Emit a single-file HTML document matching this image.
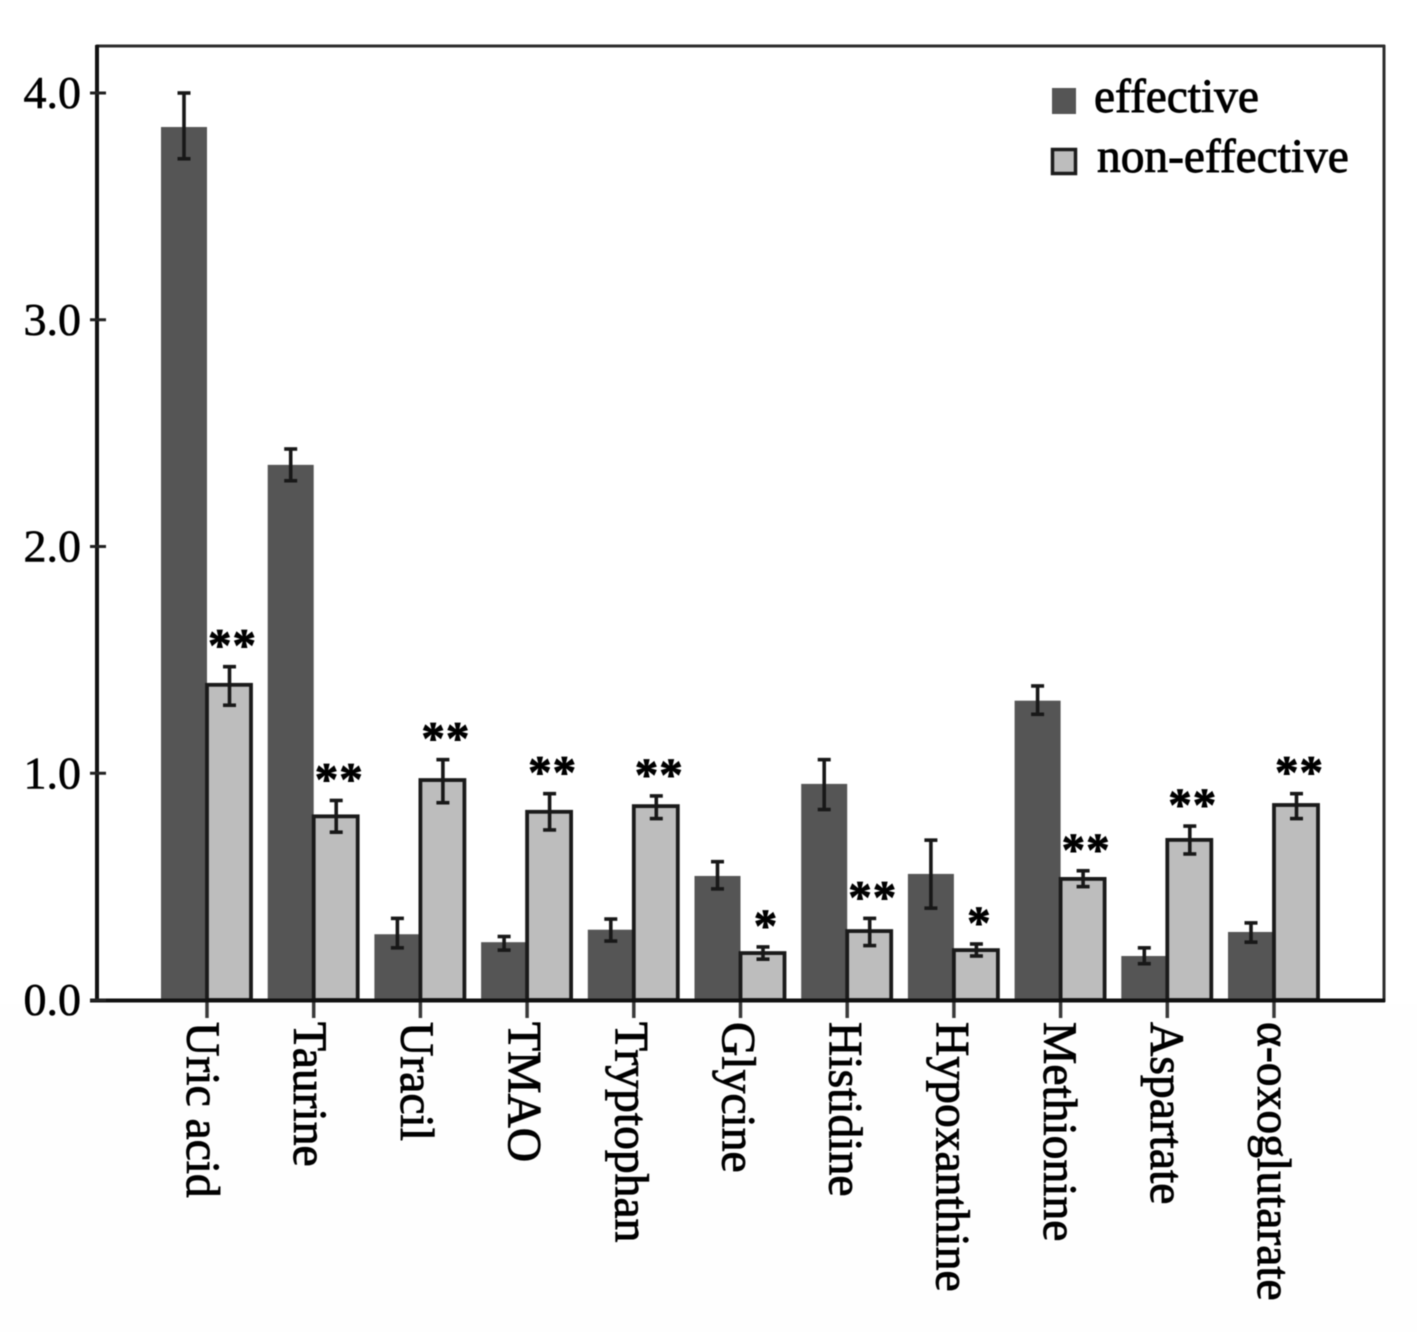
<!DOCTYPE html>
<html lang="en">
<head>
<meta charset="utf-8">
<title>Metabolite levels in effective and non-effective groups</title>
<style>
  html, body { margin: 0; padding: 0; background: #fff; }
  body { width: 1417px; height: 1332px; overflow: hidden; }
  svg { display: block; filter: blur(0.55px); }
  text { font-family: "Liberation Serif", "DejaVu Serif", serif; fill: #000; }
</style>
</head>
<body>
<svg id="chart" width="1417" height="1332" viewBox="0 0 1417 1332" xmlns="http://www.w3.org/2000/svg">
  <rect x="0" y="0" width="1417" height="1332" fill="#ffffff"></rect>
  <rect x="0" y="1004" width="1417" height="328" fill="#fefefe"></rect>
  <g id="plot"></g>
  <g id="legend">
    <rect x="1052" y="88" width="24" height="26" fill="#555555"></rect>
    <text x="1094" y="112" font-size="47.4" stroke="#000" stroke-width="0.9">effective</text>
    <rect x="1052.5" y="149.5" width="23" height="24" fill="#bdbdbd" stroke="#1c1c1c" stroke-width="3.5"></rect>
    <text x="1097" y="172" font-size="47.4" stroke="#000" stroke-width="0.9">non-effective</text>
  </g>
</svg>
<script>
const categories = ['Uric acid', 'Taurine', 'Uracil', 'TMAO', 'Tryptophan', 'Glycine', 'Histidine', 'Hypoxanthine', 'Methionine', 'Aspartate', 'α-oxoglutarate'];
const effective = [3.85, 2.36, 0.29, 0.255, 0.31, 0.547, 0.953, 0.556, 1.32, 0.194, 0.30];
const effectiveHigh = [4.0, 2.43, 0.36, 0.28, 0.357, 0.61, 1.06, 0.705, 1.385, 0.23, 0.34];
const effectiveLow = [3.71, 2.29, 0.23, 0.22, 0.26, 0.49, 0.84, 0.405, 1.26, 0.16, 0.255];
const nonEffective = [1.39, 0.81, 0.97, 0.83, 0.855, 0.207, 0.304, 0.22, 0.534, 0.706, 0.86];
const nonEffectiveHigh = [1.47, 0.88, 1.06, 0.91, 0.90, 0.234, 0.36, 0.247, 0.57, 0.767, 0.91];
const nonEffectiveLow = [1.30, 0.74, 0.87, 0.75, 0.80, 0.18, 0.24, 0.194, 0.50, 0.644, 0.80];
const significance = ['**', '**', '**', '**', '**', '*', '**', '*', '**', '**', '**'];
const yTicks = [0, 1, 2, 3, 4];
const yTickLabels = ['0.0', '1.0', '2.0', '3.0', '4.0'];

const NS = 'http://www.w3.org/2000/svg';
const plot = document.getElementById('plot');
const BASE_Y = 1000;
const UNIT_Y = 226.75;
const FIRST_X = 207;
const STEP_X = 106.7;
const BAR_W = 45;

function yScale(v) { return BASE_Y - v * UNIT_Y; }
function xScale(i) { return FIRST_X + i * STEP_X; }
function labelX(i) { return 187 + i * 107.1; }

function make(tag, props) {
  const el = document.createElementNS(NS, tag);
  Object.keys(props).forEach(function (k) { el.setAttribute(k, props[k]); });
  plot.appendChild(el);
  return el;
}
function slug(s) {
  return s.toLowerCase().replace('α', 'alpha').replace(/[^a-z]+/g, '-');
}

function drawError(cx, hi, lo, key) {
  const yh = yScale(hi);
  const yl = yScale(lo);
  const stem = make('line', { x1: cx, x2: cx, y1: yh, y2: yl, stroke: '#181818', 'stroke-width': 3.6 });
  
  
  const top = make('line', { x1: cx - 6.5, x2: cx + 6.5, y1: yh, y2: yh, stroke: '#181818', 'stroke-width': 3.6 });
  
  
  const bottom = make('line', { x1: cx - 6.5, x2: cx + 6.5, y1: yl, y2: yl, stroke: '#181818', 'stroke-width': 3.6 });
  
  
}

categories.forEach(function (name, i) {
  const x = xScale(i);
  const key = slug(name);

  const dark = make('rect', { x: x - BAR_W - 1, y: yScale(effective[i]), width: BAR_W + 1, height: BASE_Y - yScale(effective[i]), fill: '#555555' });
  
  

  const light = make('rect', { x: x, y: yScale(nonEffective[i]), width: BAR_W - 1, height: BASE_Y - yScale(nonEffective[i]), fill: '#bdbdbd', stroke: '#1a1a1a', 'stroke-width': 3.8 });
  
  

  drawError(x - BAR_W / 2 - 0.5, effectiveHigh[i], effectiveLow[i], 'effective-' + key);
  drawError(x + BAR_W / 2, nonEffectiveHigh[i], nonEffectiveLow[i], 'non-effective-' + key);

  const star = make('text', { x: x + BAR_W / 2 + 3, y: yScale(nonEffectiveHigh[i]) - 6, 'font-size': 47, 'font-weight': 'bold', 'text-anchor': 'middle', 'letter-spacing': 1, stroke: '#000', 'stroke-width': 0.8 });
  star.textContent = significance[i];
  
  

  const tick = make('line', { x1: x, x2: x, y1: BASE_Y, y2: 1018, stroke: '#3a3a3a', 'stroke-width': 3.5 });
  
  

  const label = make('text', { transform: 'translate(' + labelX(i) + ' 1022) rotate(90)', 'font-size': 47.6, stroke: '#000', 'stroke-width': 0.9 });
  label.textContent = name;
  
  
});

const frameTop = make('line', { x1: 96, x2: 1385, y1: 46, y2: 46, stroke: '#2e2e2e', 'stroke-width': 3 });



const frameRight = make('line', { x1: 1384, x2: 1384, y1: 45, y2: 1002, stroke: '#2e2e2e', 'stroke-width': 3 });



const yAxis = make('line', { x1: 97, x2: 97, y1: 45, y2: 1002, stroke: '#111111', 'stroke-width': 4 });



const xAxis = make('line', { x1: 90, x2: 1385, y1: 1000.5, y2: 1000.5, stroke: '#111111', 'stroke-width': 4 });



yTicks.forEach(function (v, i) {
  const y = yScale(v);
  const tick = make('line', { x1: 90, x2: 106, y1: y, y2: y, stroke: '#222222', 'stroke-width': 3 });
  
  

  const label = make('text', { x: 81, y: y + 15, 'font-size': 46, 'text-anchor': 'end', stroke: '#000', 'stroke-width': 0.6 });
  label.textContent = yTickLabels[i];
  
  
});
</script>
</body>
</html>
